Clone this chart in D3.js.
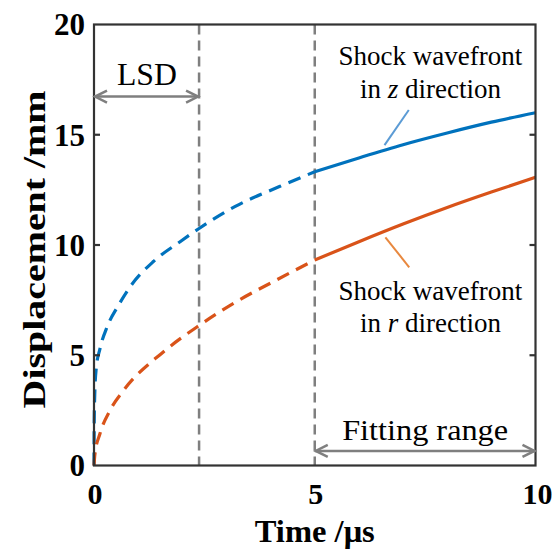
<!DOCTYPE html>
<html>
<head>
<meta charset="utf-8">
<script src="https://cdn.jsdelivr.net/npm/d3@7"></script>
<style>
  body { margin: 0; background: #fff; }
  svg { display: block; font-family: "Liberation Serif", "Times New Roman", serif; }
</style>
</head>
<body>
<div id="chart"></div>
<script>
// values
const xTicks = [0, 5, 10]
const yTicks = [0, 5, 10, 15, 20]

const tZDash = [0, 0.005, 0.02, 0.05, 0.136, 0.3, 0.55, 0.816, 1.345, 1.95, 2.38, 3.2, 4.2, 5]
const zDash = [0, 2.0, 3.4, 4.4, 5.3, 6.3, 7.25, 8.1, 9.25, 10.15, 10.75, 11.75, 12.65, 13.32]
const tZSolid = [5, 6, 7, 8, 9, 10]
const zSolid = [13.32, 13.95, 14.55, 15.08, 15.57, 16.0]

const tRDash = [0, 0.02, 0.136, 0.363, 0.66, 1.57, 2.38, 3.24, 4.14, 5]
const rDash = [0, 0.5, 1.45, 2.5, 3.38, 5.15, 6.35, 7.45, 8.42, 9.32]
const tRSolid = [5, 6, 7, 8, 9, 10]
const rSolid = [9.32, 10.15, 10.95, 11.7, 12.4, 13.07]

const lsdEnd = 2.38
const fitStart = 5

const width = 553
const height = 552
const margin = {top: 24.5, right: 17.5, bottom: 86.5, left: 94}

const x = d3.scaleLinear().domain([0, 10]).range([margin.left, width - margin.right])
const y = d3.scaleLinear().domain([0, 20]).range([height - margin.bottom, margin.top])

const blue = "#0072bd"
const orange = "#d95319"
const grey = "#7f7f7f"

const svg = d3.select("#chart").append("svg")
    .attr("width", width)
    .attr("height", height)

const line = d3.line()
    .x(d => x(d[0]))
    .y(d => y(d[1]))
    .curve(d3.curveMonotoneX)

// vertical dashed markers
svg.append("g")
    .selectAll("line")
    .data([lsdEnd, fitStart])
    .join("line")
    .attr("x1", d => x(d)).attr("x2", d => x(d))
    .attr("y1", y(20)).attr("y2", y(0))
    .attr("stroke", grey)
    .attr("stroke-width", 2.5)
    .attr("stroke-dasharray", "10,6")

// curves
const curves = [
    {t: tZDash, v: zDash, color: blue, dash: "13,8"},
    {t: tZSolid, v: zSolid, color: blue, dash: null},
    {t: tRDash, v: rDash, color: orange, dash: "13,8"},
    {t: tRSolid, v: rSolid, color: orange, dash: null}
]
svg.append("g")
    .selectAll("path")
    .data(curves)
    .join("path")
    .attr("d", c => line(c.t.map((t, i) => [t, c.v[i]])))
    .attr("fill", "none")
    .attr("stroke", c => c.color)
    .attr("stroke-width", 3.2)
    .attr("stroke-dasharray", c => c.dash)

// frame and inward ticks
const frame = svg.append("g").attr("stroke", "#333").attr("stroke-width", 2.2)
frame.append("rect")
    .attr("x", x(0)).attr("y", y(20))
    .attr("width", x(10) - x(0)).attr("height", y(0) - y(20))
    .attr("fill", "none")
yTicks.slice(1, -1).forEach(v => {
    frame.append("line").attr("x1", x(0)).attr("x2", x(0) + 6).attr("y1", y(v)).attr("y2", y(v))
    frame.append("line").attr("x1", x(10)).attr("x2", x(10) - 6).attr("y1", y(v)).attr("y2", y(v))
})

// tick labels
svg.append("g")
    .selectAll("text")
    .data(yTicks)
    .join("text")
    .attr("x", x(0) - 9)
    .attr("y", d => y(d))
    .attr("dy", "0.35em")
    .attr("text-anchor", "end")
    .attr("font-weight", "bold")
    .attr("font-size", 31)
    .text(d => d)

svg.append("g")
    .selectAll("text")
    .data(xTicks)
    .join("text")
    .attr("x", d => x(d) + (d === 10 ? 2 : 1))
    .attr("y", y(0) + 38)
    .attr("text-anchor", "middle")
    .attr("font-weight", "bold")
    .attr("font-size", 30)
    .text(d => d)

// axis titles
svg.append("text")
    .attr("x", x(5))
    .attr("y", height - 10)
    .attr("text-anchor", "middle")
    .attr("font-weight", "bold")
    .attr("font-size", 31)
    .attr("textLength", 120)
    .attr("lengthAdjust", "spacingAndGlyphs")
    .text("Time /μs")

svg.append("text")
    .attr("transform", `translate(45, ${y(9.8)}) rotate(-90)`)
    .attr("text-anchor", "middle")
    .attr("font-weight", "bold")
    .attr("font-size", 32)
    .attr("textLength", 318)
    .attr("lengthAdjust", "spacingAndGlyphs")
    .text("Displacement /mm")

// double-headed range arrows
function rangeArrow(x0, x1, yy) {
    const g = svg.append("g")
        .attr("stroke", grey)
        .attr("stroke-width", 2.5)
        .attr("fill", "none")
    g.append("line").attr("x1", x0).attr("x2", x1).attr("y1", yy).attr("y2", yy)
    g.append("path").attr("d", `M${x0 + 13},${yy - 6}L${x0 + 1},${yy}L${x0 + 13},${yy + 6}`)
    g.append("path").attr("d", `M${x1 - 13},${yy - 6}L${x1 - 1},${yy}L${x1 - 13},${yy + 6}`)
}
rangeArrow(x(0), x(lsdEnd), y(16.73))
rangeArrow(x(fitStart), x(10), y(0.66))

svg.append("text")
    .attr("x", x(1.2)).attr("y", y(17.26))
    .attr("text-anchor", "middle")
    .attr("font-size", 31)
    .attr("textLength", 60)
    .attr("lengthAdjust", "spacingAndGlyphs")
    .text("LSD")

svg.append("text")
    .attr("x", x(7.5)).attr("y", y(1.16))
    .attr("text-anchor", "middle")
    .attr("font-size", 30)
    .attr("textLength", 166)
    .attr("lengthAdjust", "spacingAndGlyphs")
    .text("Fitting range")

// curve labels with leader lines
svg.append("line")
    .attr("x1", x(6.58)).attr("y1", y(14.53))
    .attr("x2", x(7.13)).attr("y2", y(16.12))
    .attr("stroke", "#5b9bd5").attr("stroke-width", 2)
svg.append("line")
    .attr("x1", x(6.6)).attr("y1", y(10.35))
    .attr("x2", x(7.14)).attr("y2", y(8.99))
    .attr("stroke", "#e8883f").attr("stroke-width", 2)

function label(cx, yTop, yBot, dir) {
    const g = svg.append("g").attr("text-anchor", "middle").attr("font-size", 27)
    g.append("text").attr("x", x(cx)).attr("y", y(yTop)).text("Shock wavefront")
    const t = g.append("text").attr("x", x(cx)).attr("y", y(yBot))
    t.append("tspan").text("in ")
    t.append("tspan").attr("font-style", "italic").text(dir)
    t.append("tspan").text(" direction")
}
label(7.62, 18.16, 16.67, "z")
label(7.62, 7.5, 6.07, "r")
</script>
</body>
</html>
